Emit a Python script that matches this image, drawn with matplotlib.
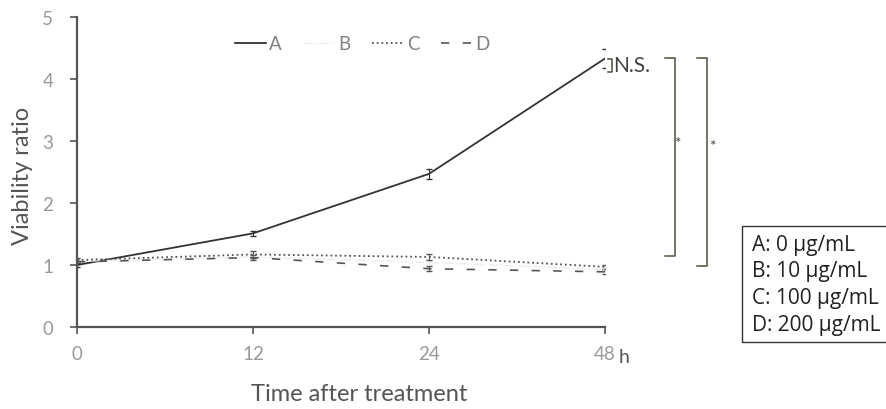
import matplotlib
matplotlib.use("Agg")
import matplotlib.pyplot as plt
from matplotlib.lines import Line2D
import numpy as np

# ---- data ----
time_labels = ["0", "12", "24", "48"]
series_names = ["A", "B", "C", "D"]
A_vals = [1.00, 1.51, 2.47, 4.33]
B_vals = [1.06, 1.13, 1.04, 0.93]
C_vals = [1.08, 1.17, 1.13, 0.97]
D_vals = [1.05, 1.12, 0.94, 0.89]
A_err = [0.03, 0.04, 0.08, 0.15]
B_err = [0.03, 0.03, 0.03, 0.03]
C_err = [0.04, 0.05, 0.05, 0.03]
D_err = [0.03, 0.04, 0.04, 0.04]
conc_labels = ["A: 0 \u03bcg/mL", "B: 10 \u03bcg/mL", "C: 100 \u03bcg/mL", "D: 200 \u03bcg/mL"]
y_ticks = [0, 1, 2, 3, 4, 5]

plt.rcParams['font.family'] = ['Lato', 'DejaVu Sans']

fig = plt.figure(figsize=(8.86, 4.10), dpi=100)
ax = fig.add_axes([77/886, 1-328/410, 528/886, 310/410])

x = np.arange(len(time_labels))
styles = {
    'A': dict(color='#333333', lw=1.3, ls='-'),
    'B': dict(color='#ebebeb', lw=1.0, ls='-.'),
    'C': dict(color='#555555', lw=1.3, ls=(0, (1, 1.6))),
    'D': dict(color='#555555', lw=1.2, ls=(0, (5, 8))),
}
vals = {'A': A_vals, 'B': B_vals, 'C': C_vals, 'D': D_vals}
errs = {'A': A_err, 'B': B_err, 'C': C_err, 'D': D_err}
for name in series_names:
    st = styles[name]
    ax.errorbar(x, vals[name], yerr=errs[name], color=st['color'], lw=st['lw'], ls=st['ls'],
                capsize=2.5, elinewidth=0.8)

ax.set_xlim(0, 3)
ax.set_ylim(0, 5)
ax.set_xticks(x)
ax.set_xticklabels(time_labels)
ax.set_yticks(y_ticks)
for s in ['top', 'right']:
    ax.spines[s].set_visible(False)
for s in ['left', 'bottom']:
    ax.spines[s].set_color('#555555')
    ax.spines[s].set_linewidth(1.6)
ax.tick_params(axis='both', colors='#555555', length=5, width=1.2, labelcolor='#9a9a9a', labelsize=13.5)
ax.tick_params(axis='x', pad=8)
ax.tick_params(axis='y', pad=12)

ax.set_xlabel('Time after treatment', fontsize=17, color='#555555')
ax.xaxis.set_label_coords(0.535, -0.18)
ax.set_ylabel('Viability ratio', fontsize=17, color='#555555')
ax.yaxis.set_label_coords(-0.083, 0.49)

ax.text(3.11, -0.47, 'h', fontsize=14, color='#555555', ha='center', va='center', clip_on=False)

handles = [Line2D([], [], **styles[n]) for n in series_names]
leg = ax.legend(handles, series_names, loc='center', bbox_to_anchor=(0.54, 0.913), ncol=4, frameon=False,
                handlelength=1.7, handletextpad=0.15, columnspacing=1.15, fontsize=13.5)
for t in leg.get_texts():
    t.set_color('#808080')

# significance brackets
bc = '#4f4f3c'
def bracket(x0, x1, ytop, ybot):
    ax.plot([x0, x1, x1, x0], [ytop, ytop, ybot, ybot], color=bc, lw=1.1, clip_on=False)

bracket(3.017, 3.042, 4.33, 4.11)
ax.text(3.045, 4.22, 'N.S.', fontsize=15, color='#444444', ha='left', va='center', clip_on=False)
bracket(3.34, 3.395, 4.34, 1.15)
ax.text(3.413, 2.96, '*', fontsize=11, color='#444444', ha='center', va='center', clip_on=False)
bracket(3.52, 3.578, 4.34, 0.98)
ax.text(3.608, 2.92, '*', fontsize=11, color='#444444', ha='center', va='center', clip_on=False)

# concentration box
for i, lab in enumerate(conc_labels):
    fig.text(752/886, 1-(251 + 26.5*i)/410, lab, fontsize=15, color='#222222',
             ha='left', va='baseline', family=['Open Sans', 'DejaVu Sans'])
box = plt.Rectangle((742/886, 1-343/410), 160/886, 116/410, transform=fig.transFigure,
                    fill=False, edgecolor='#333333', lw=1.0)
fig.add_artist(box)

fig.savefig('out.png', dpi=100)
